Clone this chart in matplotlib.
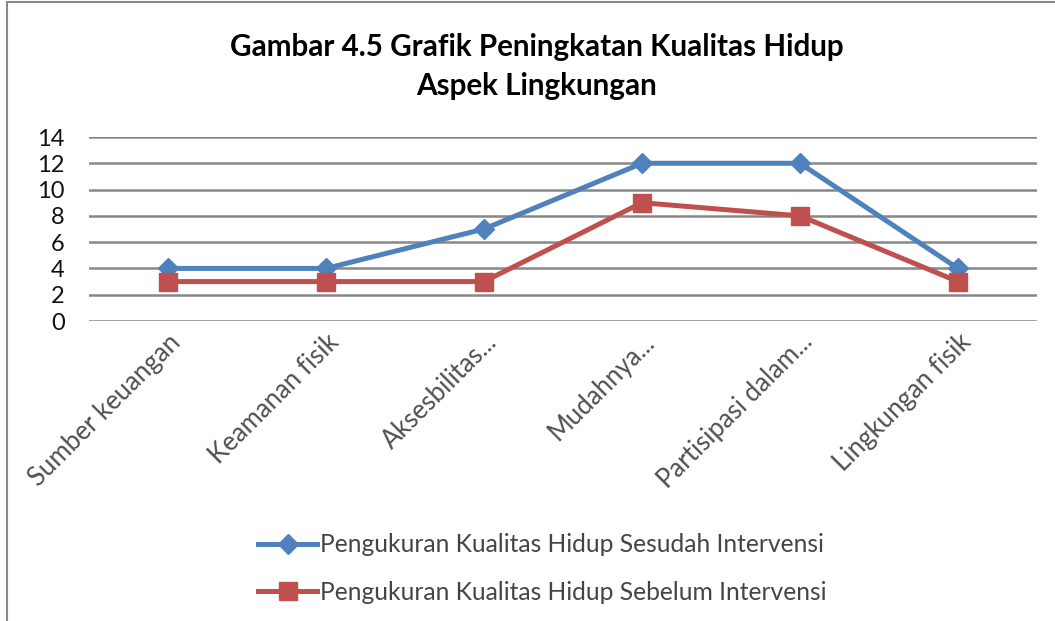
import matplotlib
matplotlib.use("Agg")
import matplotlib.pyplot as plt
from matplotlib.patches import Rectangle

categories = ["Sumber keuangan", "Keamanan fisik", "Aksesbilitas...",
              "Mudahnya...", "Partisipasi dalam...", "Lingkungan fisik"]
sesudah = [4, 4, 7, 12, 12, 4]
sebelum = [3, 3, 3, 9, 8, 3]
yticks = [0, 2, 4, 6, 8, 10, 12, 14]

plt.rcParams['font.family'] = ['Lato', 'DejaVu Sans']

fig = plt.figure(figsize=(10.55, 6.21), dpi=100)
ax = fig.add_axes([89 / 1055, 1 - 321 / 621, (1037 - 89) / 1055, (321 - 137) / 621])

x = list(range(len(categories)))
ax.plot(x, sesudah, color="#4F81BD", lw=3.6, marker="D", ms=10,
        label="Pengukuran Kualitas Hidup Sesudah Intervensi", zorder=3)
ax.plot(x, sebelum, color="#C0504D", lw=3.6, marker="s", ms=13,
        label="Pengukuran Kualitas Hidup Sebelum Intervensi", zorder=4)

ax.set_xlim(-0.5, len(categories) - 0.5)
ax.set_ylim(0, 14)
ax.set_yticks(yticks)
ax.set_yticklabels([str(v) for v in yticks], fontsize=17, color="#111111")
ax.yaxis.grid(True, color="#888888", lw=1.8)
ax.set_axisbelow(True)
ax.tick_params(axis="y", length=0, pad=17.5)
ax.tick_params(axis="x", length=0, pad=6)
ax.set_xticks(x)
ax.set_xticklabels(categories, rotation=45, ha="right", va="top",
                   rotation_mode="anchor", fontsize=18.5, color="#505050")
for s in ax.spines.values():
    s.set_visible(False)

fig.text(537 / 1055, 1 - 47 / 621, "Gambar 4.5 Grafik Peningkatan Kualitas Hidup",
         ha="center", va="center", fontsize=21.3, fontweight="bold")
fig.text(537 / 1055, 1 - 86 / 621, "Aspek Lingkungan",
         ha="center", va="center", fontsize=21.3, fontweight="bold")

leg = ax.legend(loc="upper left", bbox_to_anchor=(236 / 1055, 1 - 511 / 621),
                bbox_transform=fig.transFigure, frameon=False, fontsize=17.7,
                handlelength=2.4, handletextpad=0.1, labelspacing=1.0)
for t in leg.get_texts():
    t.set_color("#454545")

# chart border (only top and left visible in the crop)
fig.patches.append(Rectangle((7 / 1055, -0.1), 1.2, 1 - 2 / 621 + 0.1,
                             transform=fig.transFigure, fill=False,
                             ec="#888888", lw=1.5))

fig.savefig("out.png", dpi=100)
